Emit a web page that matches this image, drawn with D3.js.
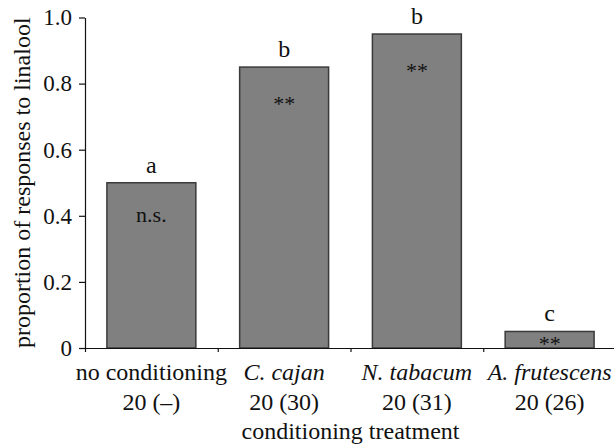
<!DOCTYPE html>
<html>
<head>
<meta charset="utf-8">
<script src="https://cdn.jsdelivr.net/npm/d3@7"></script>
<style>
  body { margin: 0; background: #fff; }
  text { font-family: "Liberation Serif", "Times New Roman", serif; }
</style>
</head>
<body>
<div id="chart"></div>
<script>
var width = 614;
var height = 445;
var margin = {top: 17.5, left: 85, bottom: 97, right: -2};

var categories = ['no conditioning', 'C. cajan', 'N. tabacum', 'A. frutescens'];
var italicNames = [false, true, true, true];
var sampleLabels = ['20 (\u2013)', '20 (30)', '20 (31)', '20 (26)'];
var proportions = [0.5, 0.85, 0.95, 0.05];
var groupLetters = ['a', 'b', 'b', 'c'];
var signifLabels = ['n.s.', '**', '**', '**'];
var yTicks = [0, 0.2, 0.4, 0.6, 0.8, 1.0];

var fontSize = 24;

var svg = d3.select('#chart').append('svg')
  .attr('width', width)
  .attr('height', height);

var x = d3.scaleBand()
  .domain(categories)
  .range([margin.left, width - margin.right])
  .paddingInner(0.33)
  .paddingOuter(0.165);

var xEdges = d3.scaleLinear()
  .domain([0, categories.length])
  .range([margin.left, width - margin.right]);

var y = d3.scaleLinear()
  .domain([0, 1])
  .range([height - margin.bottom, margin.top]);

// bars
svg.selectAll('.bar')
  .data(proportions)
  .enter()
  .append('rect')
  .attr('class', 'bar')
  .attr('x', function(d, i) { return x(categories[i]); })
  .attr('y', function(d) { return y(d); })
  .attr('width', x.bandwidth())
  .attr('height', function(d) { return y(0) - y(d); })
  .style('fill', '#808080')
  .style('stroke', '#3a3a3a')
  .style('stroke-width', 1.5);

// y axis
var yAxis = svg.append('g')
  .attr('transform', 'translate(' + margin.left + ',0)')
  .call(d3.axisLeft(y)
    .tickValues(yTicks)
    .tickFormat(function(d) { return d === 0 ? '0' : d3.format('.1f')(d); })
    .tickSize(6)
    .tickPadding(7)
    .tickSizeOuter(0));
yAxis.selectAll('text')
  .style('font-size', '23px')
  .style('font-family', '"Liberation Serif", serif')
  .style('fill', '#111');

// x axis with ticks between categories
var xAxis = svg.append('g')
  .attr('transform', 'translate(0,' + y(0) + ')')
  .call(d3.axisBottom(xEdges)
    .ticks(categories.length)
    .tickFormat('')
    .tickSize(4)
    .tickSizeOuter(0));

svg.selectAll('.domain, .tick line')
  .style('stroke', '#111')
  .style('stroke-width', 1.2);

// category names
svg.selectAll('.catName')
  .data(categories)
  .enter()
  .append('text')
  .attr('class', 'catName')
  .attr('x', function(d) { return x(d) + x.bandwidth() / 2; })
  .attr('y', y(0) + 32)
  .attr('text-anchor', 'middle')
  .style('font-size', fontSize + 'px')
  .style('font-style', function(d, i) { return italicNames[i] ? 'italic' : 'normal'; })
  .style('fill', '#111')
  .text(function(d) { return d; });

svg.selectAll('.sampleLabel')
  .data(sampleLabels)
  .enter()
  .append('text')
  .attr('class', 'sampleLabel')
  .attr('x', function(d, i) { return x(categories[i]) + x.bandwidth() / 2; })
  .attr('y', y(0) + 62)
  .attr('text-anchor', 'middle')
  .style('font-size', fontSize + 'px')
  .style('fill', '#111')
  .text(function(d) { return d; });

// letters above bars
svg.selectAll('.letter')
  .data(groupLetters)
  .enter()
  .append('text')
  .attr('class', 'letter')
  .attr('x', function(d, i) { return x(categories[i]) + x.bandwidth() / 2; })
  .attr('y', function(d, i) { return y(proportions[i]) - 10; })
  .attr('text-anchor', 'middle')
  .style('font-size', fontSize + 'px')
  .style('fill', '#111')
  .text(function(d) { return d; });

// significance inside bars
svg.selectAll('.signif')
  .data(signifLabels)
  .enter()
  .append('text')
  .attr('class', 'signif')
  .attr('x', function(d, i) { return x(categories[i]) + x.bandwidth() / 2; })
  .attr('y', function(d, i) {
    var top = y(proportions[i]);
    var centre = Math.min(top + 33, (top + y(0)) / 2);
    return d === '**' ? centre + 11 : centre + 6;
  })
  .attr('text-anchor', 'middle')
  .style('font-size', '22px')
  .style('fill', '#111')
  .text(function(d) { return d; });

// axis titles
svg.append('text')
  .attr('x', (margin.left + width - margin.right) / 2)
  .attr('y', y(0) + 91)
  .attr('text-anchor', 'middle')
  .style('font-size', fontSize + 'px')
  .style('fill', '#111')
  .text('conditioning treatment');

svg.append('text')
  .attr('transform', 'translate(30,' + ((y(0) + y(1)) / 2) + ') rotate(-90)')
  .attr('text-anchor', 'middle')
  .style('font-size', fontSize + 'px')
  .style('fill', '#111')
  .text('proportion of responses to linalool');
</script>
</body>
</html>
